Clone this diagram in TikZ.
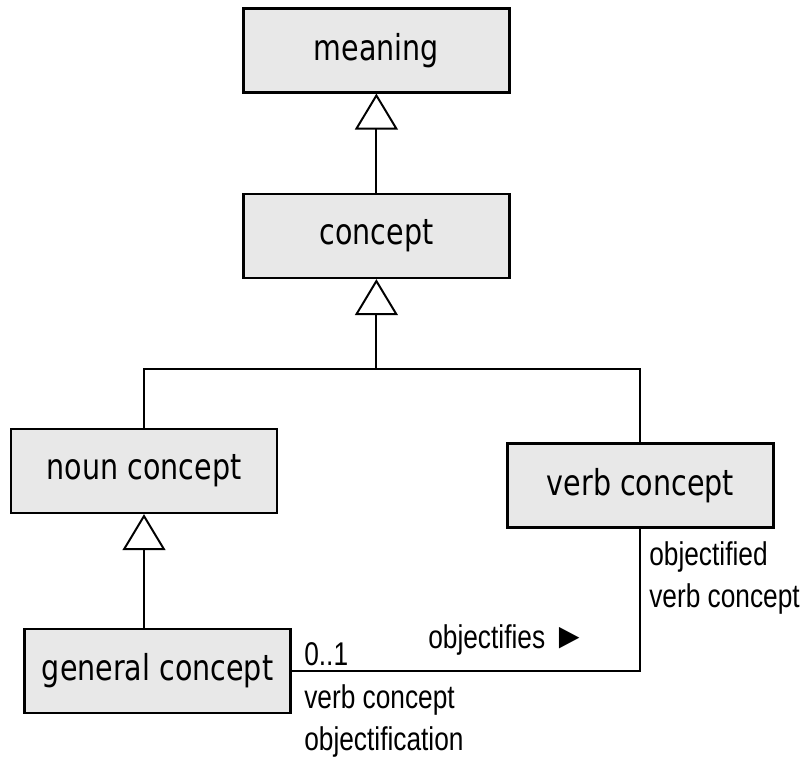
\documentclass[tikz,border=0pt]{standalone}
\usepackage{fontspec}
\usepackage{tikz}
\usetikzlibrary{arrows.meta, positioning, calc}
\newfontfamily\boxfont{DejaVu Sans}
\newfontfamily\labelfont{Liberation Sans}
\newcommand{\tallt}[1]{\scalebox{1}[1.25]{#1}}

\begin{document}
\begin{tikzpicture}[
  class/.style={draw, line width=1.6pt, fill=gray!18, minimum width=6.65cm,
                minimum height=2.1cm, inner sep=0pt,
                font=\boxfont\fontsize{20.3}{24}\selectfont},
  inherit/.style={-{Triangle[open, length=0.9cm, width=1.07cm]}, line width=1.4pt},
  assoc/.style={line width=1.4pt},
  role/.style={font=\labelfont\fontsize{18.7}{22}\selectfont, anchor=base west, inner sep=0pt}
]
  \useasboundingbox (0,0) rectangle (20.1,-18.975);

  \node[class] (meaning) at (9.41,-1.26)   {\tallt{meaning}};
  \node[class] (concept) at (9.41,-5.9)    {\tallt{concept}};
  \node[class] (noun)    at (3.6,-11.775)  {\tallt{noun concept}};
  \node[class] (verb)    at (16.01,-12.14) {\tallt{verb concept}};
  \node[class] (general) at (3.94,-16.775) {\tallt{general concept}};

  \coordinate (bus) at (9.41,-9.225);

  % generalisations
  \draw[inherit] (concept) -- (meaning);
  \draw[assoc] (noun.north) |- (bus) -| (verb.north);
  \draw[inherit] (bus) -- (concept);
  \draw[inherit] (noun.south |- general.north) -- (noun);

  % association
  \draw[assoc] (general.east) -| (verb.south);

  \node[role] (mult)   at (7.6,-16.625)    {\tallt{0..1}};
  \node[role] (roleA)  at (7.6,-17.7)      {\tallt{verb concept}};
  \node[role] (roleB)  at (7.6,-18.75)     {\tallt{objectification}};
  \node[role] (verbl)  at (10.7,-16.2)     {\tallt{objectifies \scalebox{1.3}[1.1]{►}}};
  \node[role] (roleC)  at (16.225,-14.125) {\tallt{objectified}};
  \node[role] (roleD)  at (16.225,-15.175) {\tallt{verb concept}};
\end{tikzpicture}
\end{document}
